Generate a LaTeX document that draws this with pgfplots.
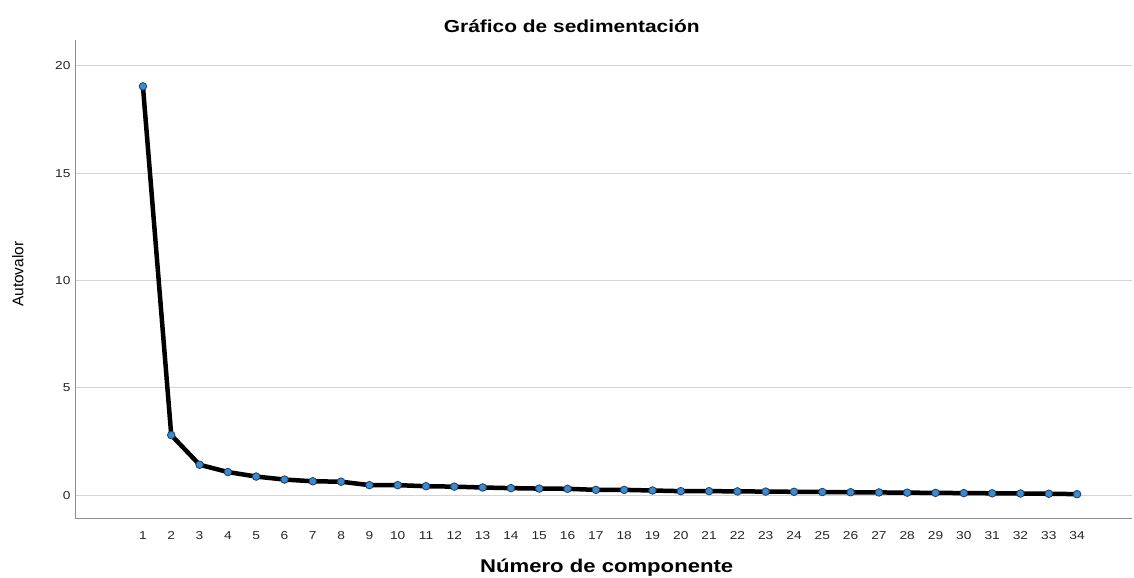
\documentclass[border=0pt]{standalone}
\usepackage{pgfplots}
\pgfplotsset{compat=1.18}
\usepackage{fontspec}
\setmainfont{Liberation Sans}
\newfontfamily\widefont[FakeStretch=1.2]{Liberation Sans}
\definecolor{markblue}{HTML}{3A8BD0}
\definecolor{markedge}{HTML}{1F3F66}
\definecolor{gridgray}{HTML}{D4D4D4}
\definecolor{axgray}{HTML}{8C8C8C}
\begin{document}
\begin{tikzpicture}[x=1bp,y=1bp]
\useasboundingbox (0,0) rectangle (1134,578);
\begin{axis}[
 at={(75bp,60bp)},anchor=south west,
 scale only axis,width=1057bp,height=478bp,
 xmin=-1.4,xmax=35.94,ymin=-1.06,ymax=21.2,
 axis x line*=bottom,axis y line*=left,
 axis line style={axgray,line width=0.8pt},
 every inner x axis line/.append style={-},
 every inner y axis line/.append style={-},
 xtick={1,...,34},ytick={0,5,10,15,20},
 major tick style={draw=none},
 ymajorgrids,grid style={gridgray,line width=0.8pt},
 tick label style={font=\widefont\fontsize{11.5}{13}\selectfont,color=black!85},
 xticklabel style={yshift=-10bp},
 yticklabel style={xshift=-1bp},
 /pgf/number format/assume math mode=true,
 title={\textbf{Gráfico de sedimentación}},
 title style={font=\widefont\fontsize{17.5}{20}\selectfont,at={(axis description cs:0.47,1.017)},anchor=center},
 xlabel={\textbf{Número de componente}},
 xlabel style={font=\widefont\fontsize{18.5}{21}\selectfont,at={(axis description cs:0.503,-0.103)},anchor=center},
 ylabel={Autovalor},
 ylabel style={font=\fontsize{15.5}{17}\selectfont,at={(axis description cs:-0.054,0.51)},anchor=center,rotate=0},
 clip=false]
\addplot[black,line width=4.5bp,mark=*,mark size=3.8bp,
  mark options={fill=markblue,draw=markedge,line width=0.8bp}] coordinates {
 (1,19.04) (2,2.80) (3,1.42) (4,1.08) (5,0.87) (6,0.73) (7,0.65) (8,0.63)
 (9,0.47) (10,0.47) (11,0.42) (12,0.40) (13,0.36) (14,0.33) (15,0.31)
 (16,0.30) (17,0.25) (18,0.25) (19,0.22) (20,0.19) (21,0.19) (22,0.18)
 (23,0.17) (24,0.16) (25,0.15) (26,0.14) (27,0.13) (28,0.12) (29,0.11)
 (30,0.10) (31,0.09) (32,0.08) (33,0.07) (34,0.05)
};
\end{axis}
\end{tikzpicture}
\end{document}
